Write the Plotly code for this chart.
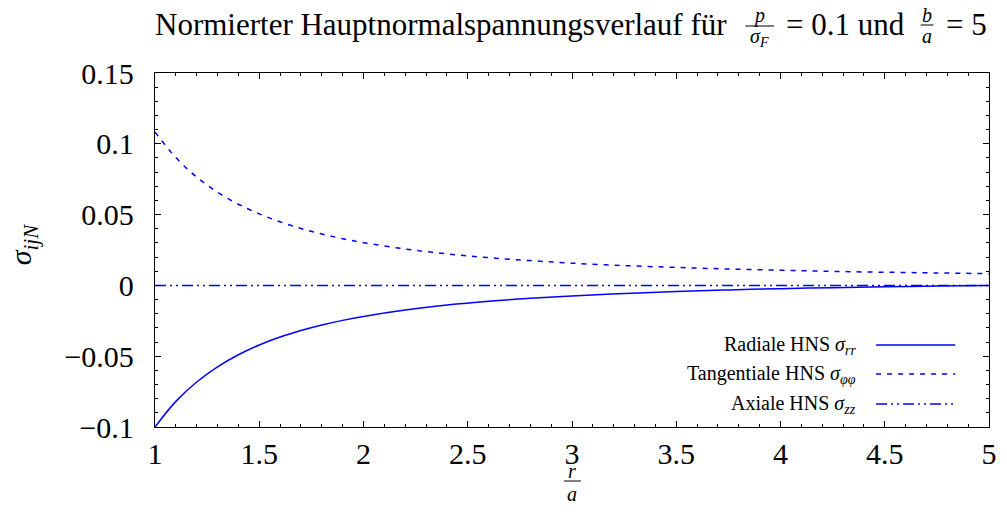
import plotly.graph_objects as go

# Normalised radius r/a
r_a = [1.0, 1.1, 1.2, 1.3, 1.4, 1.5, 1.6, 1.7, 1.8, 1.9, 2.0,
       2.2, 2.4, 2.6, 2.8, 3.0, 3.25, 3.5, 3.75, 4.0, 4.25, 4.5, 4.75, 5.0]

# Radial principal normal stress sigma_rr
sigma_rr = [-0.1000, -0.0819, -0.0682, -0.0575, -0.0490, -0.0421, -0.0365, -0.0319,
            -0.0280, -0.0247, -0.0219, -0.0174, -0.0139, -0.0112, -0.0091, -0.0074,
            -0.0057, -0.0043, -0.0032, -0.0023, -0.0016, -0.0010, -0.0005, 0.0000]

# Tangential principal normal stress sigma_phiphi
sigma_pp = [0.1083, 0.0903, 0.0765, 0.0658, 0.0573, 0.0505, 0.0449, 0.0402,
            0.0363, 0.0330, 0.0302, 0.0257, 0.0223, 0.0196, 0.0175, 0.0157,
            0.0140, 0.0127, 0.0116, 0.0107, 0.0099, 0.0093, 0.0088, 0.0083]

# Axial principal normal stress sigma_zz
sigma_zz = [0.0] * len(r_a)

x_ticks = [1, 1.5, 2, 2.5, 3, 3.5, 4, 4.5, 5]
y_ticks = [-0.1, -0.05, 0, 0.05, 0.1, 0.15]

FONT = "Liberation Serif, DejaVu Serif, serif"
BLUE = "#0000ff"
W, H = 1007, 520
ML, MR, MT, MB = 155, 10, 73, 93
PW, PH = W - ML - MR, H - MT - MB


def px(x):
    return (x - ML) / PW


def py(y):
    return (H - MB - y) / PH


DASH_T = "5px,6px"
DASH_A = "11px,4px,2px,4px,2px,4px"

fig = go.Figure()
fig.add_trace(go.Scatter(x=r_a, y=sigma_rr, mode="lines", line_shape="spline",
                         line=dict(color=BLUE, width=1.5), showlegend=False))
fig.add_trace(go.Scatter(x=r_a, y=sigma_pp, mode="lines", line_shape="spline",
                         line=dict(color=BLUE, width=1.5, dash=DASH_T), showlegend=False))
fig.add_trace(go.Scatter(x=r_a, y=sigma_zz, mode="lines",
                         line=dict(color=BLUE, width=1.5, dash=DASH_A), showlegend=False))

axis_common = dict(
    showline=True, linecolor="black", linewidth=1.3, mirror="ticks",
    ticks="inside", ticklen=6, tickwidth=1, tickcolor="black",
    showgrid=False, zeroline=False,
    tickfont=dict(family=FONT, size=30, color="black"),
)
fig.update_xaxes(range=[1, 5], tickvals=x_ticks, ticklabelstandoff=0,
                 minor=dict(ticks="inside", dtick=0.1, ticklen=3, tickcolor="black", showgrid=False),
                 **axis_common)
fig.update_yaxes(range=[-0.1, 0.15], tickvals=y_ticks, ticklabelstandoff=14,
                 minor=dict(ticks="inside", dtick=0.01, ticklen=3, tickcolor="black", showgrid=False),
                 **axis_common)

ann = []
shapes = []


def text(x, y, s, size, anchor="center", angle=0):
    ann.append(dict(x=px(x), y=py(y), xref="paper", yref="paper", text=s, showarrow=False,
                    xanchor=anchor, yanchor="middle", textangle=angle,
                    font=dict(family=FONT, size=size, color="black")))


def hline(x0, x1, y, dash="solid", color="black", width=1):
    shapes.append(dict(type="line", xref="paper", yref="paper",
                       x0=px(x0), x1=px(x1), y0=py(y), y1=py(y),
                       line=dict(color=color, width=width, dash=dash)))


# Title with stacked fractions
text(735, 25, "Normierter Hauptnormalspannungsverlauf für", 31, "right")
text(765, 16, "<i>p</i>", 20)
hline(751, 780, 26)
text(765, 38, "<i>σ</i><sub><i>F</i></sub>", 20)
text(790, 25, "= 0.1 und", 31, "left")
text(934, 15, "<i>b</i>", 20)
hline(928, 941, 25)
text(934, 36, "<i>a</i>", 20)
text(952, 25, "= 5", 31, "left")

# Axis titles
text(576, 471, "<i>r</i>", 20)
hline(568, 585, 481)
text(576, 494, "<i>a</i>", 20)
text(22, 245, "<i>σ</i><sub><i>ijN</i></sub>", 30, angle=-90)

# Key
keys = [("Radiale HNS <i>σ</i><sub><i>rr</i></sub>", 345, "solid"),
        ("Tangentiale HNS <i>σ</i><sub><i>φφ</i></sub>", 374, DASH_T),
        ("Axiale HNS <i>σ</i><sub><i>zz</i></sub>", 404, DASH_A)]
for label, y, dash in keys:
    text(865, y, label, 20, "right")
    hline(883, 963, y, dash=dash, color=BLUE, width=1.5)

fig.update_layout(
    width=W, height=H,
    margin=dict(l=ML, r=MR, t=MT, b=MB),
    paper_bgcolor="white", plot_bgcolor="white",
    font=dict(family=FONT, color="black"),
    annotations=ann, shapes=shapes,
)

fig.write_html("out.html")
